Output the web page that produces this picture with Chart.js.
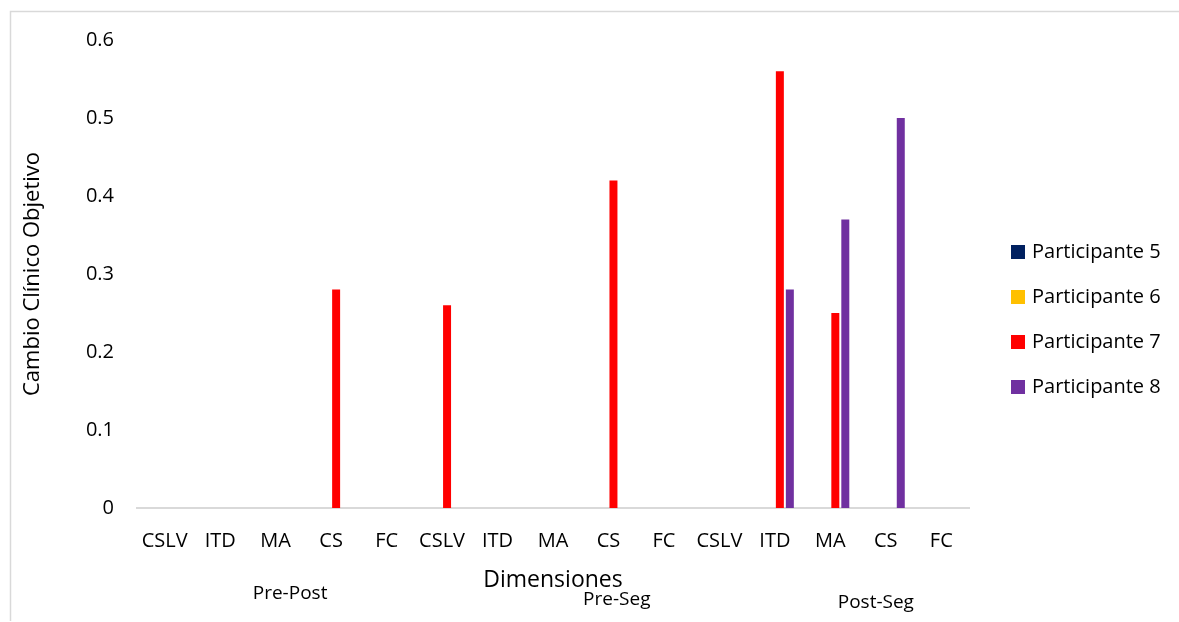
<!DOCTYPE html>
<html>
<head>
<meta charset="utf-8">
<script src="https://cdn.jsdelivr.net/npm/chart.js@4"></script>
<style>
    html, body { margin: 0; padding: 0; background: #fff; }
    #wrap { width: 1179px; height: 622px; position: relative; }
</style>
</head>
<body>
<div id="wrap"><canvas id="cambioChart" width="1179" height="622"></canvas></div>
<script>
// Datos del gráfico
const categorias = ['CSLV', 'ITD', 'MA', 'CS', 'FC', 'CSLV', 'ITD', 'MA', 'CS', 'FC', 'CSLV', 'ITD', 'MA', 'CS', 'FC'];
const grupos = ['Pre-Post', 'Pre-Seg', 'Post-Seg'];
const participante5 = [0, 0, 0, 0, 0, 0, 0, 0, 0, 0, 0, 0, 0, 0, 0];
const participante6 = [0, 0, 0, 0, 0, 0, 0, 0, 0, 0, 0, 0, 0, 0, 0];
const participante7 = [0, 0, 0, 0.28, 0, 0.26, 0, 0, 0.42, 0, 0, 0.56, 0.25, 0, 0];
const participante8 = [0, 0, 0, 0, 0, 0, 0, 0, 0, 0, 0, 0.28, 0.37, 0.50, 0];
const yMax = 0.6;
const yPaso = 0.1;

const fuente = "'Open Sans', 'Noto Sans', sans-serif";

// Marco gris (solo borde superior e izquierdo visibles)
const marco = {
    id: 'marco',
    beforeDraw(chart) {
        const ctx = chart.ctx;
        ctx.save();
        ctx.strokeStyle = '#d9d9d9';
        ctx.lineWidth = 1.5;
        ctx.beginPath();
        ctx.moveTo(10.5, 621);
        ctx.lineTo(10.5, 11.5);
        ctx.lineTo(1179, 11.5);
        ctx.stroke();
        ctx.restore();
    }
};

// Etiquetas de grupo debajo de las categorías
const etiquetasGrupo = {
    id: 'etiquetasGrupo',
    afterDraw(chart) {
        const ctx = chart.ctx;
        const x = chart.scales.x;
        const posiciones = [[2.26, 594], [8.15, 600], [12.82, 603]];
        ctx.save();
        ctx.font = '19px ' + fuente;
        ctx.fillStyle = '#000';
        ctx.textAlign = 'center';
        ctx.textBaseline = 'middle';
        grupos.forEach((g, i) => {
            ctx.fillText(g, x.getPixelForValue(posiciones[i][0]), posiciones[i][1]);
        });
        ctx.restore();
    }
};

// Leyenda a la derecha
const leyenda = {
    id: 'leyenda',
    afterDraw(chart) {
        const ctx = chart.ctx;
        ctx.save();
        ctx.font = '20px ' + fuente;
        ctx.textBaseline = 'middle';
        ctx.textAlign = 'left';
        chart.data.datasets.forEach((ds, i) => {
            const y = 252 + i * 45;
            ctx.fillStyle = ds.backgroundColor;
            ctx.fillRect(1011, y - 7, 14, 14);
            ctx.fillStyle = '#000';
            ctx.fillText(ds.label, 1032, y);
        });
        ctx.restore();
    }
};

const ctx = document.getElementById('cambioChart').getContext('2d');
new Chart(ctx, {
    type: 'bar',
    data: {
        labels: categorias,
        datasets: [
            { label: 'Participante 5', data: participante5, backgroundColor: '#002060' },
            { label: 'Participante 6', data: participante6, backgroundColor: '#FFC000' },
            { label: 'Participante 7', data: participante7, backgroundColor: '#FF0000' },
            { label: 'Participante 8', data: participante8, backgroundColor: '#7030A0' }
        ]
    },
    options: {
        responsive: false,
        animation: false,
        devicePixelRatio: 1,
        layout: { padding: { top: 40, right: 210, bottom: 0, left: 0 } },
        datasets: {
            bar: { categoryPercentage: 0.72, barPercentage: 0.8, borderWidth: 0 }
        },
        scales: {
            x: {
                grid: { display: false, drawTicks: false },
                border: { display: true, color: '#d9d9d9', width: 2 },
                ticks: {
                    color: '#000',
                    font: { family: fuente, size: 20 },
                    padding: 21,
                    autoSkip: false,
                    maxRotation: 0
                },
                title: {
                    display: true,
                    text: 'Dimensiones',
                    color: '#000',
                    font: { family: fuente, size: 23 },
                    padding: { top: 0, bottom: 28 }
                },
                afterFit(scale) { scale.height = 114; }
            },
            y: {
                min: 0,
                max: yMax,
                grid: { display: false, drawTicks: false },
                border: { display: false },
                ticks: {
                    stepSize: yPaso,
                    color: '#000',
                    font: { family: fuente, size: 20 },
                    padding: 23,
                    callback: v => (Math.round(v * 10) / 10).toString()
                },
                title: {
                    display: true,
                    text: 'Cambio Clínico Objetivo',
                    color: '#000',
                    font: { family: fuente, size: 22 },
                    padding: { top: 20, bottom: 0 }
                },
                afterFit(scale) { scale.width = 137; }
            }
        },
        plugins: {
            legend: { display: false },
            tooltip: { enabled: false }
        }
    },
    plugins: [marco, etiquetasGrupo, leyenda]
});
</script>
</body>
</html>
